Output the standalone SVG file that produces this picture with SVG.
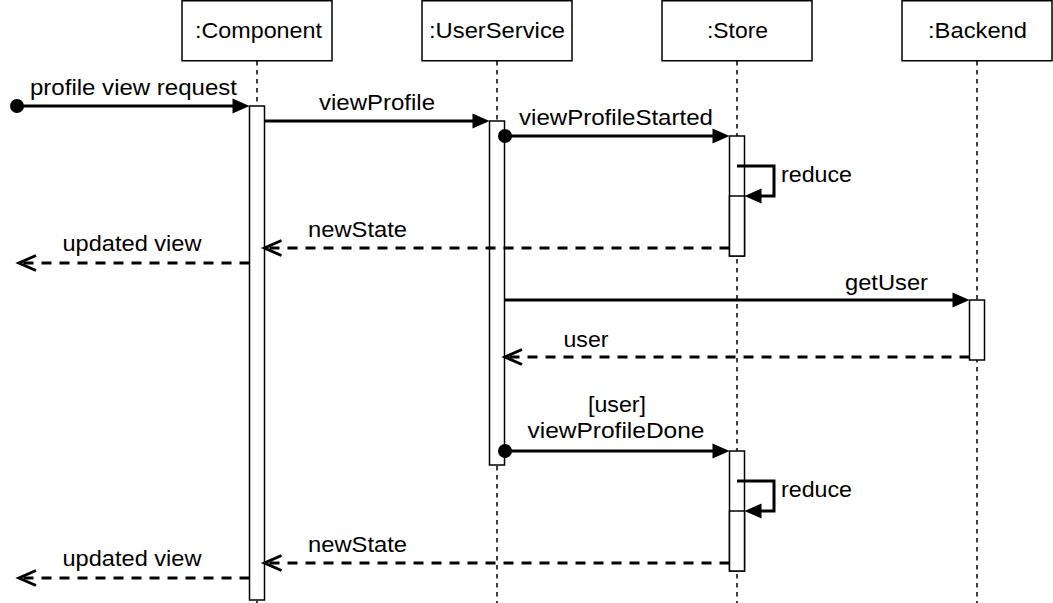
<svg xmlns="http://www.w3.org/2000/svg" width="1053" height="603" viewBox="0 0 1053 603">
<style>
.box{fill:#fff;stroke:#000;stroke-width:1.5}
.life{fill:none;stroke:#000;stroke-width:1.5;stroke-dasharray:4.5 4.5}
.bar{fill:#fff;stroke:#000;stroke-width:1.5}
.msg{fill:none;stroke:#000;stroke-width:3}
.ret{fill:none;stroke:#000;stroke-width:3;stroke-dasharray:10 8}
.lbl{font-family:"Liberation Sans",Arial,Helvetica,sans-serif;font-size:22px;fill:#000}
</style>
<defs>
<marker id="fill" markerUnits="userSpaceOnUse" viewBox="0 0 17 15" markerWidth="17" markerHeight="15" refX="13" refY="7.5" orient="auto" overflow="visible">
<path d="M0,0 L17,7.5 L0,15 Z" fill="#000"/>
</marker>
<marker id="open" markerUnits="userSpaceOnUse" viewBox="0 0 17 15" markerWidth="17" markerHeight="15" refX="16" refY="7.5" orient="auto" overflow="visible">
<path d="M0,0 L17,7.5 L0,15" fill="none" stroke="#000" stroke-width="3"/>
</marker>
<marker id="dot" markerUnits="userSpaceOnUse" viewBox="0 0 14 14" markerWidth="14" markerHeight="14" refX="7" refY="7" orient="auto" overflow="visible">
<circle cx="7" cy="7" r="7" fill="#000"/>
</marker>
</defs>

<g id="component">
<rect class="box" x="182" y="0.75" width="150" height="60"/>
<text class="lbl" x="195" y="38" textLength="127" lengthAdjust="spacingAndGlyphs">:Component</text>
<line class="life" x1="257" y1="61" x2="257" y2="603"/>
<rect class="bar" x="249.5" y="106" width="15" height="494"/>
</g>

<g id="userservice">
<rect class="box" x="422" y="0.75" width="150" height="60"/>
<text class="lbl" x="429" y="38" textLength="136" lengthAdjust="spacingAndGlyphs">:UserService</text>
<line class="life" x1="497" y1="61" x2="497" y2="603"/>
<rect class="bar" x="489.5" y="121" width="15" height="344"/>
</g>

<g id="store">
<rect class="box" x="662" y="0.75" width="150" height="60"/>
<text class="lbl" x="707" y="38" textLength="61" lengthAdjust="spacingAndGlyphs">:Store</text>
<line class="life" x1="737" y1="61" x2="737" y2="603"/>
<rect class="bar" x="729.5" y="136" width="15" height="120"/>
<rect class="bar" x="729.5" y="451" width="15" height="120"/>
</g>

<g id="backend">
<rect class="box" x="902" y="0.75" width="150" height="60"/>
<text class="lbl" x="928" y="38" textLength="99" lengthAdjust="spacingAndGlyphs">:Backend</text>
<line class="life" x1="977" y1="61" x2="977" y2="603"/>
<rect class="bar" x="969.5" y="300" width="15" height="60"/>
</g>

<g id="connectors">
<path class="msg" d="M17,106 L245.5,106" marker-start="url(#dot)" marker-end="url(#fill)"/>
<text class="lbl" x="30" y="95" textLength="207" lengthAdjust="spacingAndGlyphs">profile view request</text>

<path class="msg" d="M264.5,121 L485.5,121" marker-end="url(#fill)"/>
<text class="lbl" x="319" y="110" textLength="116" lengthAdjust="spacingAndGlyphs">viewProfile</text>

<path class="msg" d="M505,136 L725.5,136" marker-start="url(#dot)" marker-end="url(#fill)"/>
<text class="lbl" x="519" y="125" textLength="194" lengthAdjust="spacingAndGlyphs">viewProfileStarted</text>

<path class="msg" d="M737,166 L774,166 L774,196 L748.5,196" marker-end="url(#fill)"/>
<rect class="bar" x="729.5" y="196" width="15" height="60"/>
<text class="lbl" x="781" y="182" textLength="71" lengthAdjust="spacingAndGlyphs">reduce</text>

<path class="ret" d="M729.5,248 L265.5,248" marker-end="url(#open)"/>
<text class="lbl" x="308" y="237" textLength="99" lengthAdjust="spacingAndGlyphs">newState</text>

<path class="ret" d="M249.5,263 L20,263" marker-end="url(#open)"/>
<text class="lbl" x="62.5" y="251" textLength="139" lengthAdjust="spacingAndGlyphs">updated view</text>

<path class="msg" d="M504.5,300 L965.5,300" marker-end="url(#fill)"/>
<text class="lbl" x="845" y="290" textLength="83" lengthAdjust="spacingAndGlyphs">getUser</text>

<path class="ret" d="M969.5,357 L506,357" marker-end="url(#open)"/>
<text class="lbl" x="563.5" y="346.5" textLength="45" lengthAdjust="spacingAndGlyphs">user</text>

<path class="msg" d="M505,451 L725.5,451" marker-start="url(#dot)" marker-end="url(#fill)"/>
<text class="lbl" x="588" y="412" textLength="58" lengthAdjust="spacingAndGlyphs">[user]</text>
<text class="lbl" x="527.5" y="438" textLength="177" lengthAdjust="spacingAndGlyphs">viewProfileDone</text>

<path class="msg" d="M737,481 L774,481 L774,511 L748.5,511" marker-end="url(#fill)"/>
<rect class="bar" x="729.5" y="511" width="15" height="60"/>
<text class="lbl" x="781" y="497" textLength="71" lengthAdjust="spacingAndGlyphs">reduce</text>

<path class="ret" d="M729.5,563 L265.5,563" marker-end="url(#open)"/>
<text class="lbl" x="308" y="552" textLength="99" lengthAdjust="spacingAndGlyphs">newState</text>

<path class="ret" d="M249.5,578 L20,578" marker-end="url(#open)"/>
<text class="lbl" x="62.5" y="566" textLength="139" lengthAdjust="spacingAndGlyphs">updated view</text>
</g>
</svg>
